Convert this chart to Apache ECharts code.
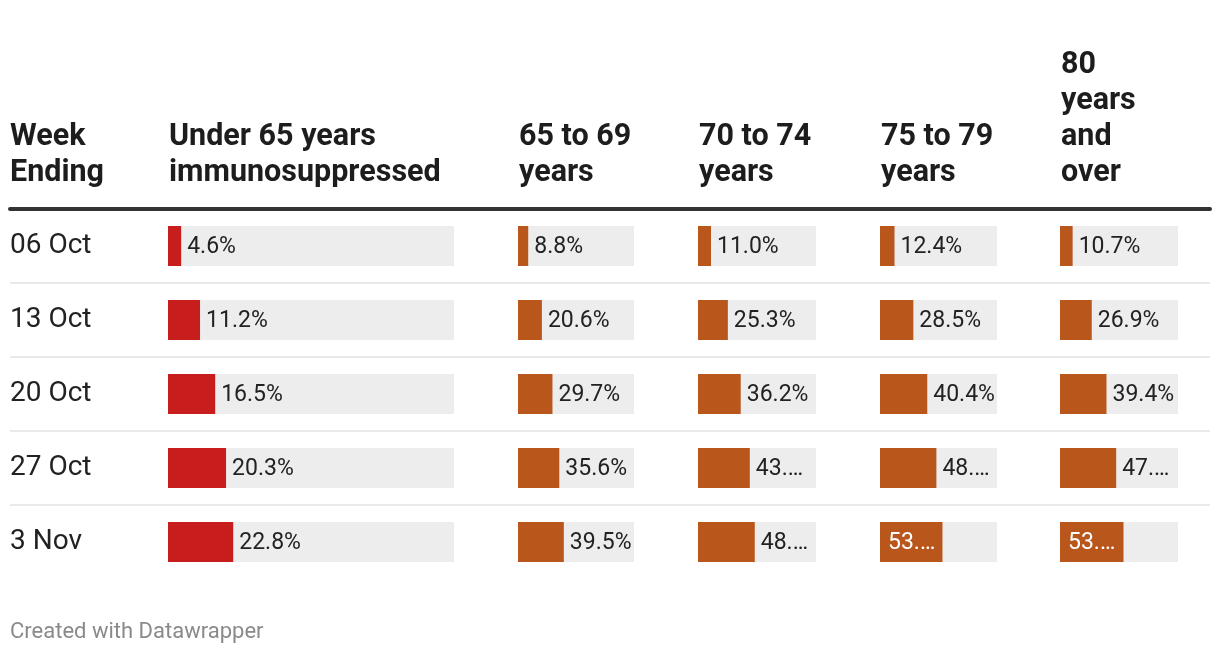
<!DOCTYPE html>
<html>
<head>
<meta charset="utf-8">
<script src="https://cdn.jsdelivr.net/npm/echarts@6/dist/echarts.min.js"></script>
<style>
  html, body { margin: 0; padding: 0; background: #ffffff; }
  #chart { width: 1220px; height: 654px; }
</style>
</head>
<body>
<div id="chart"></div>
<script>
// ---- data ----
const weeks = ['06 Oct', '13 Oct', '20 Oct', '27 Oct', '3 Nov'];
const headerWeek = 'Week\nEnding';
const columnHeaders = [
  'Under 65 years\nimmunosuppressed',
  '65 to 69\nyears',
  '70 to 74\nyears',
  '75 to 79\nyears',
  '80\nyears\nand\nover'
];
const under65Immuno = [4.6, 11.2, 16.5, 20.3, 22.8];
const age65to69 = [8.8, 20.6, 29.7, 35.6, 39.5];
const age70to74 = [11.0, 25.3, 36.2, 43.9, 48.1];
const age75to79 = [12.4, 28.5, 40.4, 48.2, 53.4];
const age80plus = [10.7, 26.9, 39.4, 47.6, 53.8];
const footerText = 'Created with Datawrapper';

// ---- layout / styles ----
const seriesValues = [under65Immuno, age65to69, age70to74, age75to79, age80plus];
const colLayout = [
  { left: 168, width: 286, color: '#c71e1d' },
  { left: 518, width: 116, color: '#b8561b' },
  { left: 698, width: 118, color: '#b8561b' },
  { left: 880, width: 117, color: '#b8561b' },
  { left: 1060, width: 118, color: '#b8561b' }
];
const FONT = 'Roboto, "Noto Sans", sans-serif';
const rowTop = 209, rowH = 74, nRows = weeks.length;
const gridH = rowH * nRows;
const labelSize = 23;
const outDist = 6, inDist = 8;

const grids = [], xAxes = [], yAxes = [], series = [], titles = [];

colLayout.forEach((c, i) => {
  grids.push({ left: c.left, top: rowTop, width: c.width, height: gridH, containLabel: false });
  xAxes.push({ gridIndex: i, type: 'value', min: 0, max: 100, show: false });
  yAxes.push({
    gridIndex: i, type: 'category', inverse: true, data: weeks,
    show: i === 0,
    axisLine: { show: false }, axisTick: { show: false }, splitLine: { show: false },
    axisLabel: {
      show: i === 0, align: 'left', margin: c.left - 10,
      fontFamily: FONT, fontSize: 28, color: '#222',
      padding: [4, 0, 0, 0]
    }
  });
  const data = seriesValues[i].map(v => {
    const barPx = c.width * v / 100;
    const inside = v > 50;
    const avail = inside ? barPx - inDist - 4 : c.width - barPx - outDist - 1;
    return {
      value: v,
      label: {
        position: inside ? 'insideLeft' : 'right',
        distance: inside ? inDist : outDist,
        color: inside ? '#ffffff' : '#222222',
        width: Math.max(10, avail),
        overflow: 'truncate',
        ellipsis: '\u2026'
      }
    };
  });
  series.push({
    type: 'bar', xAxisIndex: i, yAxisIndex: i,
    data: data, barWidth: 40,
    itemStyle: { color: c.color },
    showBackground: true,
    backgroundStyle: { color: '#ededed' },
    label: {
      show: true, fontFamily: FONT, fontSize: labelSize,
      offset: [0, 1.5],
      formatter: p => p.value.toFixed(1) + '%'
    },
    silent: true, animation: false
  });
});

// full-width grid for header rule and row separators
const sepIdx = colLayout.length;
grids.push({ left: 10, top: rowTop, width: 1200, height: gridH });
xAxes.push({
  gridIndex: sepIdx, type: 'value', min: 0, max: 1, position: 'top',
  axisLine: { show: true, lineStyle: { color: '#333333', width: 4 } },
  axisTick: { show: false }, axisLabel: { show: false }, splitLine: { show: false }
});
yAxes.push({
  gridIndex: sepIdx, type: 'value', min: 0, max: nRows, interval: 1, inverse: true,
  axisLine: { show: false }, axisTick: { show: false }, axisLabel: { show: false },
  splitLine: { show: true, showMinLine: false, showMaxLine: false, lineStyle: { color: '#e9e9e9', width: 2 } }
});

// headers
const headerTop2 = 119, headerLH = 36;
const headerStyle = { fontFamily: FONT, fontSize: 30.5, fontWeight: 'bold', color: '#1d1d1d', lineHeight: headerLH };
const allHeaders = [headerWeek].concat(columnHeaders);
const headerLefts = [10].concat(colLayout.map(c => c.left + 1));
allHeaders.forEach((h, i) => {
  const lines = h.split('\n').length;
  titles.push({
    text: h, left: headerLefts[i], top: headerTop2 - (lines - 2) * headerLH,
    padding: 0, textStyle: headerStyle
  });
});
titles.push({
  text: footerText, left: 10, top: 621, padding: 0,
  textStyle: { fontFamily: FONT, fontSize: 22, fontWeight: 'normal', color: '#8a8a8a' }
});

const chart = echarts.init(document.getElementById('chart'), null, { renderer: 'canvas' });
chart.setOption({
  backgroundColor: '#ffffff',
  animation: false,
  title: titles,
  grid: grids,
  xAxis: xAxes,
  yAxis: yAxes,
  series: series
});
</script>
</body>
</html>
